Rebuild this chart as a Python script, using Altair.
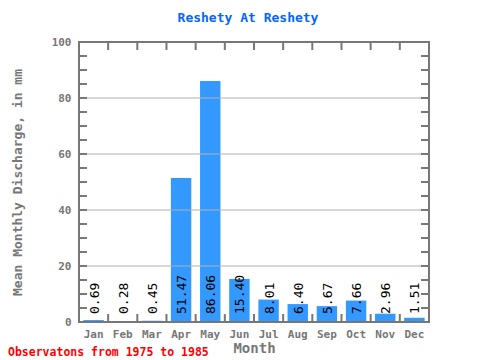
import altair as alt
import pandas as pd

months = ["Jan", "Feb", "Mar", "Apr", "May", "Jun", "Jul", "Aug", "Sep", "Oct", "Nov", "Dec"]
values = [0.69, 0.28, 0.45, 51.47, 86.06, 15.40, 8.01, 6.40, 5.67, 7.66, 2.96, 1.51]
grid_values = [20, 40, 60, 80]
minor_ticks = [5, 10, 15, 20, 25, 30, 35, 40, 45, 50, 55, 60, 65, 70, 75, 80, 85, 90, 95]
y_labels = [0, 20, 40, 60, 80, 100]
title_text = "Reshety At Reshety"
footer_text = "Observatons from 1975 to 1985"

W, H = 350, 280
FONT = "DejaVu Sans Mono"
GREY = "#777777"

df = pd.DataFrame({"month": months, "value": values,
                   "label": [f"{v:.2f}" for v in values]})
grid_df = pd.DataFrame({"v": grid_values})
tick_df = pd.DataFrame({"v": minor_ticks})
month_df = pd.DataFrame({"month": months})
footer_df = pd.DataFrame({"t": [footer_text]})
frame_df = pd.DataFrame({"f": [0]})

xscale = alt.Scale(domain=months, paddingInner=0.3, paddingOuter=0.15)
yscale = alt.Scale(domain=[0, 100], nice=False)

xaxis = alt.Axis(title="Month", labelAngle=0, ticks=False, domain=False, grid=False,
                 labelFont=FONT, labelFontSize=11, labelColor=GREY, labelFontWeight="bold",
                 labelPadding=6, titleFont=FONT, titleFontSize=14, titleColor=GREY,
                 titleFontWeight="bold", titlePadding=2)
yaxis = alt.Axis(title="Mean Monthly Discharge, in mm", values=y_labels, ticks=False,
                 domain=False, grid=False, labelFont=FONT, labelFontSize=11,
                 labelColor=GREY, labelFontWeight="bold", labelPadding=8,
                 titleFont=FONT, titleFontSize=13, titleColor=GREY,
                 titleFontWeight="bold", titlePadding=27)

bars = alt.Chart(df).mark_bar(color="#3399FF").encode(
    x=alt.X("month:N", scale=xscale, axis=xaxis, sort=months),
    y=alt.Y("value:Q", scale=yscale, axis=yaxis),
)

grid = alt.Chart(grid_df).mark_rule(color="#b0b0b0", strokeWidth=1).encode(
    y=alt.Y("v:Q", scale=yscale),
    x=alt.value(0), x2=alt.value(W),
)

labels = alt.Chart(df).mark_text(angle=270, align="left", baseline="middle",
                                 font=FONT, fontSize=13, color="black", dx=8, dy=1).encode(
    x=alt.X("month:N", scale=xscale, sort=months),
    y=alt.datum(0),
    text="label:N",
)

ticks_left = alt.Chart(tick_df).mark_rule(color=GREY, strokeWidth=2).encode(
    y=alt.Y("v:Q", scale=yscale), x=alt.value(0), x2=alt.value(8))
ticks_right = alt.Chart(tick_df).mark_rule(color=GREY, strokeWidth=2).encode(
    y=alt.Y("v:Q", scale=yscale), x=alt.value(W - 8), x2=alt.value(W))
ticks_top = alt.Chart(month_df).mark_rule(color=GREY, strokeWidth=2, xOffset=-4.4).encode(
    x=alt.X("month:N", scale=xscale, sort=months, bandPosition=0),
    y=alt.value(0), y2=alt.value(8))
ticks_bottom = alt.Chart(month_df).mark_rule(color=GREY, strokeWidth=2, xOffset=-4.4).encode(
    x=alt.X("month:N", scale=xscale, sort=months, bandPosition=0),
    y=alt.value(H - 8), y2=alt.value(H))

frame = alt.Chart(frame_df).mark_rect(fillOpacity=0, stroke=GREY, strokeWidth=2).encode(
    x=alt.value(0), x2=alt.value(W), y=alt.value(0), y2=alt.value(H))

footer = alt.Chart(footer_df).mark_text(align="left", baseline="alphabetic", font=FONT,
                                        fontSize=11.5, fontWeight="bold", color="#FF0000").encode(
    x=alt.value(-71), y=alt.value(H + 34), text="t:N")

chart = alt.layer(bars, grid, labels, ticks_left, ticks_right, ticks_top, ticks_bottom,
                  frame, footer).properties(
    width=W, height=H,
    title=alt.TitleParams(title_text, font=FONT, fontSize=13, fontWeight="bold",
                          color="#0066FF", offset=11, dx=-6),
    autosize=alt.AutoSizeParams(type="none"),
    padding={"left": 71, "top": 34, "right": 43, "bottom": 42},
).configure_view(stroke=None).configure(background="white")

chart.save("out.html", embed_options={"renderer": "svg", "actions": False})
